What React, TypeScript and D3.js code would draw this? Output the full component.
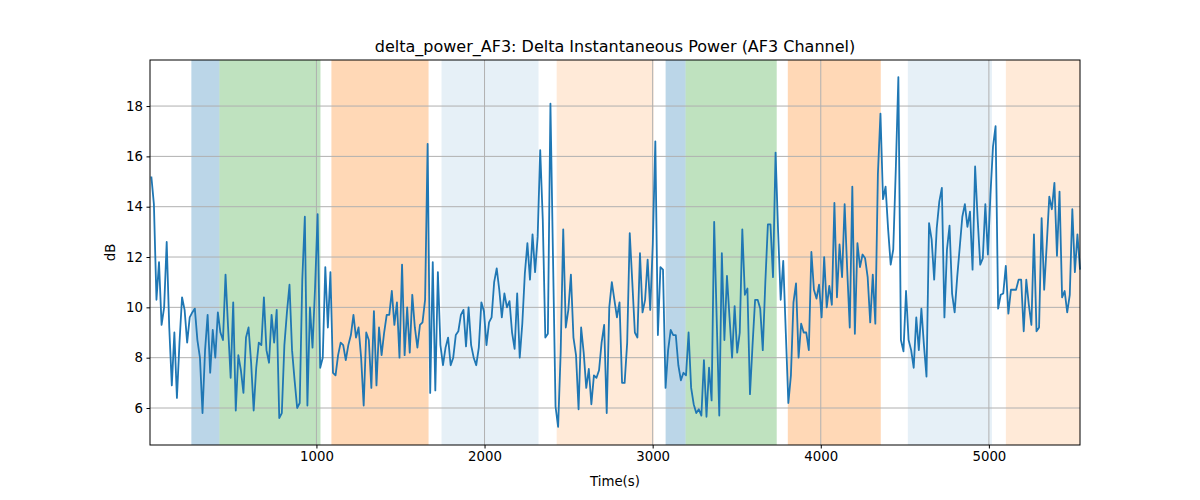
import React, { useEffect, useRef } from 'react';
import * as d3 from 'd3';

// delta power (dB), sampled uniformly over the recording
const power: number[] = [
  15.2, 14.1, 10.3, 11.8, 9.3, 10.0, 12.6, 9.2, 6.9, 9.0, 6.4, 8.6, 10.4, 9.9, 8.6, 9.6, 9.8, 9.95, 8.7, 8.0,
  5.8, 8.3, 9.7, 7.4, 9.1, 8.0, 9.8, 9.0, 8.7, 11.3, 9.2, 7.2, 10.2, 5.9, 8.1, 7.5, 6.6, 8.8, 9.2, 7.8,
  5.9, 7.6, 8.6, 8.5, 10.4, 8.3, 7.8, 9.7, 8.6, 9.9, 5.6, 5.8, 8.5, 9.8, 10.9, 8.3, 7.1, 6.0, 6.2, 11.1, 13.6,
  6.1, 10.0, 8.4, 10.8, 13.7, 7.6, 8.0, 11.6, 9.2, 11.4, 7.4, 7.3, 8.1, 8.6, 8.5, 7.9, 8.5, 8.9, 9.7, 8.8,
  9.2, 8.0, 6.1, 9.0, 8.7, 6.8, 9.85, 6.9, 9.2, 8.1, 9.0, 9.7, 9.7, 10.65, 9.3, 10.2, 8.0, 11.7, 8.1, 10.0,
  8.2, 10.5, 9.2, 8.4, 9.3, 9.4, 10.3, 16.5, 6.6, 11.8, 6.7, 11.4, 8.5, 7.7, 8.4, 8.8, 7.7,
  8.0, 8.9, 9.05, 9.7, 9.9, 8.45, 10.0, 8.5, 8.0, 7.7, 8.4, 10.2, 9.85, 8.5, 9.4, 9.6, 11.0, 11.55, 10.7, 9.6,
  10.55, 10.0, 10.25, 9.0, 8.35, 10.55, 8.0, 9.35, 11.35, 12.55, 11.1, 12.9, 11.4, 12.8, 16.25, 13.5, 8.8, 8.95, 18.1, 12.0,
  6.05, 5.25, 8.2, 13.1, 9.2, 9.9, 11.3, 8.8, 8.1, 5.95, 9.2, 8.2, 6.8, 7.55, 6.15, 7.3, 7.2, 7.5, 8.6, 9.3,
  5.8, 10.0, 11.0, 10.3, 9.6, 10.2, 7.0, 7.0, 8.6, 12.95, 11.0, 9.0, 8.8, 12.15, 9.8, 10.3, 11.9, 9.9, 12.5, 16.6,
  8.9, 11.6, 11.5, 6.8, 8.3, 9.1, 8.9, 8.9, 7.7, 7.1, 7.4, 7.3, 9.0, 6.8, 6.15, 5.8, 5.95, 5.7, 7.9, 5.65,
  7.6, 6.3, 13.4, 9.5, 5.7, 12.15, 8.7, 11.25, 9.6, 8.0, 10.05, 8.2, 9.0, 13.1, 10.5, 10.75, 6.55,
  8.5, 10.3, 10.3, 9.95, 8.3, 11.0, 13.3, 13.3, 11.2, 16.15, 13.0, 10.3, 11.85, 9.0, 6.2, 7.3, 10.2, 10.95, 8.0, 9.35,
  9.0, 9.0, 8.3, 12.2, 10.7, 10.35, 10.9, 9.6, 12.0, 10.0, 10.85, 10.1, 14.15, 10.4, 12.5, 11.2, 14.1, 11.5, 9.2, 14.8,
  8.95, 12.55, 11.6, 12.1, 11.95, 11.2, 9.4, 11.3, 9.35, 15.3, 17.7, 14.3, 14.8, 13.1, 11.7, 12.3, 15.5, 19.15, 8.7, 8.25,
  10.65, 8.7, 8.3, 7.6, 9.6,
  8.3, 9.95, 8.5, 7.25, 13.35, 12.7, 11.1, 13.15, 14.2, 14.75, 9.6, 12.3, 13.25, 10.55, 9.8, 11.2, 12.4, 13.6, 14.1, 13.2,
  13.8, 11.5, 15.6, 13.5, 11.7, 11.95, 14.1, 12.1, 14.5, 16.4, 17.2, 9.95, 10.5, 10.55, 11.65, 9.75, 10.7, 10.7, 10.7, 11.1,
  11.1, 9.05, 11.1, 10.1, 9.3, 12.9, 9.05, 9.2, 13.55, 10.7, 12.5, 14.4, 13.9, 14.95, 12.05, 14.6, 10.4, 10.65, 9.8, 10.5,
  13.9, 11.4, 12.9, 11.5,
];

const tStart = 18;
const tEnd = 5542;

// shaded phases [start, end, colour, opacity]
const spans: [number, number, string, number][] = [
  [256, 423, '#1f77b4', 0.3],
  [423, 1024, '#2ca02c', 0.3],
  [1089, 1667, '#ff7f0e', 0.3],
  [1744, 2321, '#1f77b4', 0.11],
  [2429, 3006, '#ff7f0e', 0.16],
  [3077, 3196, '#1f77b4', 0.3],
  [3196, 3738, '#2ca02c', 0.3],
  [3804, 4357, '#ff7f0e', 0.3],
  [4518, 5018, '#1f77b4', 0.11],
  [5101, 5542, '#ff7f0e', 0.16],
];

const xTicks = [1000, 2000, 3000, 4000, 5000];
const yTicks = [6, 8, 10, 12, 14, 16, 18];

export default function App() {
  const ref = useRef<SVGSVGElement>(null);

  useEffect(() => {
    const svg = d3.select(ref.current);
    svg.selectAll('*').remove();
    const width = 1200;
    const height = 500;
    const m = { top: 60, right: 120, bottom: 55, left: 150 };
    const w = width - m.left - m.right;
    const h = height - m.top - m.bottom;
    const font = 'DejaVu Sans, sans-serif';

    const step = (tEnd - tStart) / (power.length - 1);
    const pts = power.map((v, i) => [tStart + i * step, v] as [number, number]);

    const x = d3.scaleLinear().domain([tStart - 8, tEnd]).range([0, w]);
    const y = d3.scaleLinear().domain([4.53, 19.83]).range([h, 0]);

    svg.append('rect').attr('width', width).attr('height', height).attr('fill', 'white');
    const g = svg.append('g').attr('transform', `translate(${m.left},${m.top})`);

    g.selectAll('.span')
      .data(spans)
      .enter()
      .append('rect')
      .attr('x', (d) => x(d[0]))
      .attr('width', (d) => x(d[1]) - x(d[0]))
      .attr('y', 0)
      .attr('height', h)
      .attr('fill', (d) => d[2])
      .attr('fill-opacity', (d) => d[3]);

    // grid
    g.selectAll('.gx').data(xTicks).enter().append('line')
      .attr('x1', (d) => x(d)).attr('x2', (d) => x(d)).attr('y1', 0).attr('y2', h)
      .attr('stroke', '#b0b0b0').attr('stroke-width', 1);
    g.selectAll('.gy').data(yTicks).enter().append('line')
      .attr('y1', (d) => y(d)).attr('y2', (d) => y(d)).attr('x1', 0).attr('x2', w)
      .attr('stroke', '#b0b0b0').attr('stroke-width', 1);

    const line = d3.line<[number, number]>().x((d) => x(d[0])).y((d) => y(d[1]));
    g.append('path').datum(pts).attr('d', line).attr('fill', 'none')
      .attr('stroke', '#1f77b4').attr('stroke-width', 1.8).attr('stroke-linejoin', 'round');

    g.append('rect').attr('width', w).attr('height', h).attr('fill', 'none')
      .attr('stroke', 'black').attr('stroke-width', 1);

    const xa = g.append('g').attr('transform', `translate(0,${h})`)
      .call(d3.axisBottom(x).tickValues(xTicks).tickSize(3.5).tickPadding(3.5).tickFormat(d3.format('d')));
    const ya = g.append('g')
      .call(d3.axisLeft(y).tickValues(yTicks).tickSize(3.5).tickPadding(3.5).tickFormat(d3.format('d')));
    [xa, ya].forEach((a) => {
      a.select('.domain').remove();
      a.selectAll('text').attr('font-family', font).attr('font-size', 13.3).attr('fill', 'black');
      a.selectAll('line').attr('stroke', 'black');
    });

    svg.append('text').attr('x', m.left + w / 2).attr('y', 52).attr('text-anchor', 'middle')
      .attr('font-family', font).attr('font-size', 16).text('delta_power_AF3: Delta Instantaneous Power (AF3 Channel)');
    svg.append('text').attr('x', m.left + w / 2).attr('y', 486).attr('text-anchor', 'middle')
      .attr('font-family', font).attr('font-size', 13.3).text('Time(s)');
    svg.append('text').attr('transform', `translate(115,${m.top + h / 2}) rotate(-90)`)
      .attr('text-anchor', 'middle').attr('font-family', font).attr('font-size', 13.3).text('dB');
  }, []);

  return <svg ref={ref} width={1200} height={500} style={{ position: 'absolute', left: 0, top: 0 }} />;
}
